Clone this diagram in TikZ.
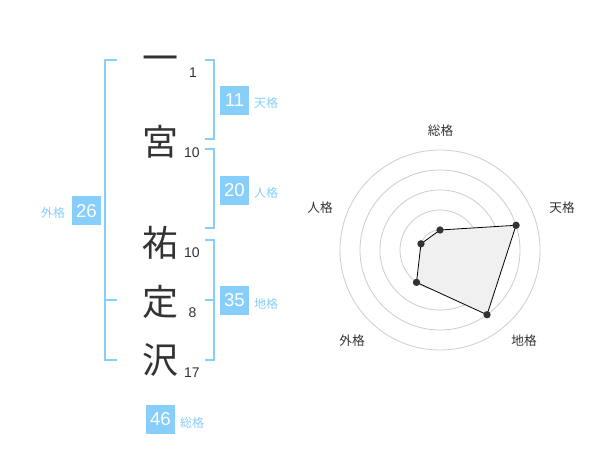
\documentclass[tikz,border=0pt]{standalone}
\usepackage{fontspec}
\setmainfont{Liberation Sans}
\newfontfamily\cjk{Noto Sans CJK JP}
\definecolor{skyb}{RGB}{135,206,250}
\definecolor{txt}{RGB}{51,51,51}
\definecolor{grid}{RGB}{204,204,204}
\tikzset{
  bigchar/.style={font=\cjk\fontsize{27}{27}\selectfont, text=txt, inner sep=0pt, text height=23.76pt, text depth=3.24pt},
  strokenum/.style={font=\fontsize{10.5}{10.5}\selectfont, text=txt, inner sep=0pt},
  gbox/.style={fill=skyb, text=white, minimum width=21.75pt, minimum height=21.75pt, inner sep=0pt, font=\fontsize{14}{14}\selectfont},
  glabel/.style={font=\cjk\fontsize{9}{9}\selectfont, text=skyb, inner sep=0pt},
  brk/.style={draw=skyb, line width=1.5pt},
  rlabel/.style={font=\cjk\fontsize{9.5}{9.5}\selectfont, text=txt, inner sep=0pt},
  ring/.style={draw=grid, line width=0.6pt},
  dot/.style={circle, fill=txt, inner sep=0pt, minimum size=5.5pt}
}
\begin{document}
\begin{tikzpicture}[x=0.75pt,y=-0.75pt]
\useasboundingbox (0,0) rectangle (600,470);
% big characters
\node[bigchar] (c1) at (160,58) {一};
\node[bigchar] (c2) at (160,141.5) {宮};
\node[bigchar] (c3) at (160,243) {祐};
\node[bigchar] (c4) at (160,301.5) {定};
\node[bigchar] (c5) at (160,360) {沢};
% stroke counts
\node[strokenum] (n1) at (193,73) {1};
\node[strokenum] (n2) at (192,153) {10};
\node[strokenum] (n3) at (192,253) {10};
\node[strokenum] (n4) at (192.5,313) {8};
\node[strokenum] (n5) at (192,373) {17};
% brackets
\draw[brk] (117,60) -- (105,60) -- (105,360) -- (117,360);
\draw[brk] (105,300) -- (117,300);
\draw[brk] (205,60) -- (214,60) -- (214,139.5) -- (205,139.5);
\draw[brk] (205,149.5) -- (214,149.5) -- (214,228.5) -- (205,228.5);
\draw[brk] (205,240) -- (214,240) -- (214,360) -- (205,360);
\draw[brk] (205,300) -- (214,300);
% boxes and labels
\node[gbox] (b11) at (234.5,100.5) {11};
\node[glabel] (l11) at (266,103) {天格};
\node[gbox] (b20) at (234.5,190.5) {20};
\node[glabel] (l20) at (266,193) {人格};
\node[gbox] (b35) at (234.5,300.5) {35};
\node[glabel] (l35) at (266,304) {地格};
\node[gbox] (b26) at (86.5,211) {26};
\node[glabel] (l26) at (53,213) {外格};
\node[gbox] (b46) at (160.5,419.5) {46};
\node[glabel] (l46) at (192,423) {総格};
% radar
\coordinate (O) at (440,250);
\foreach \r in {20,40,60,80,100} {\draw[ring] (O) circle[radius=\r];}
\fill[grid] (O) circle[radius=3.5];
\path (O) ++(0,-20) coordinate (pS);
\path (O) ++(-18:80) coordinate (pT);
\path (O) ++(54:80) coordinate (pC);
\path (O) ++(126:40) coordinate (pG);
\path (O) ++(198:20) coordinate (pJ);
\filldraw[fill=black!6, draw=black, line width=0.6pt] (pS) -- (pT) -- (pC) -- (pG) -- (pJ) -- cycle;
\foreach \p in {pS,pT,pC,pG,pJ} {\node[dot] at (\p) {};}
\node[rlabel] (rS) at (440.5,131) {総格};
\node[rlabel] (rT) at (562,208) {天格};
\node[rlabel] (rC) at (524,341) {地格};
\node[rlabel] (rG) at (352,341) {外格};
\node[rlabel] (rJ) at (320,208) {人格};
\end{tikzpicture}
\end{document}
